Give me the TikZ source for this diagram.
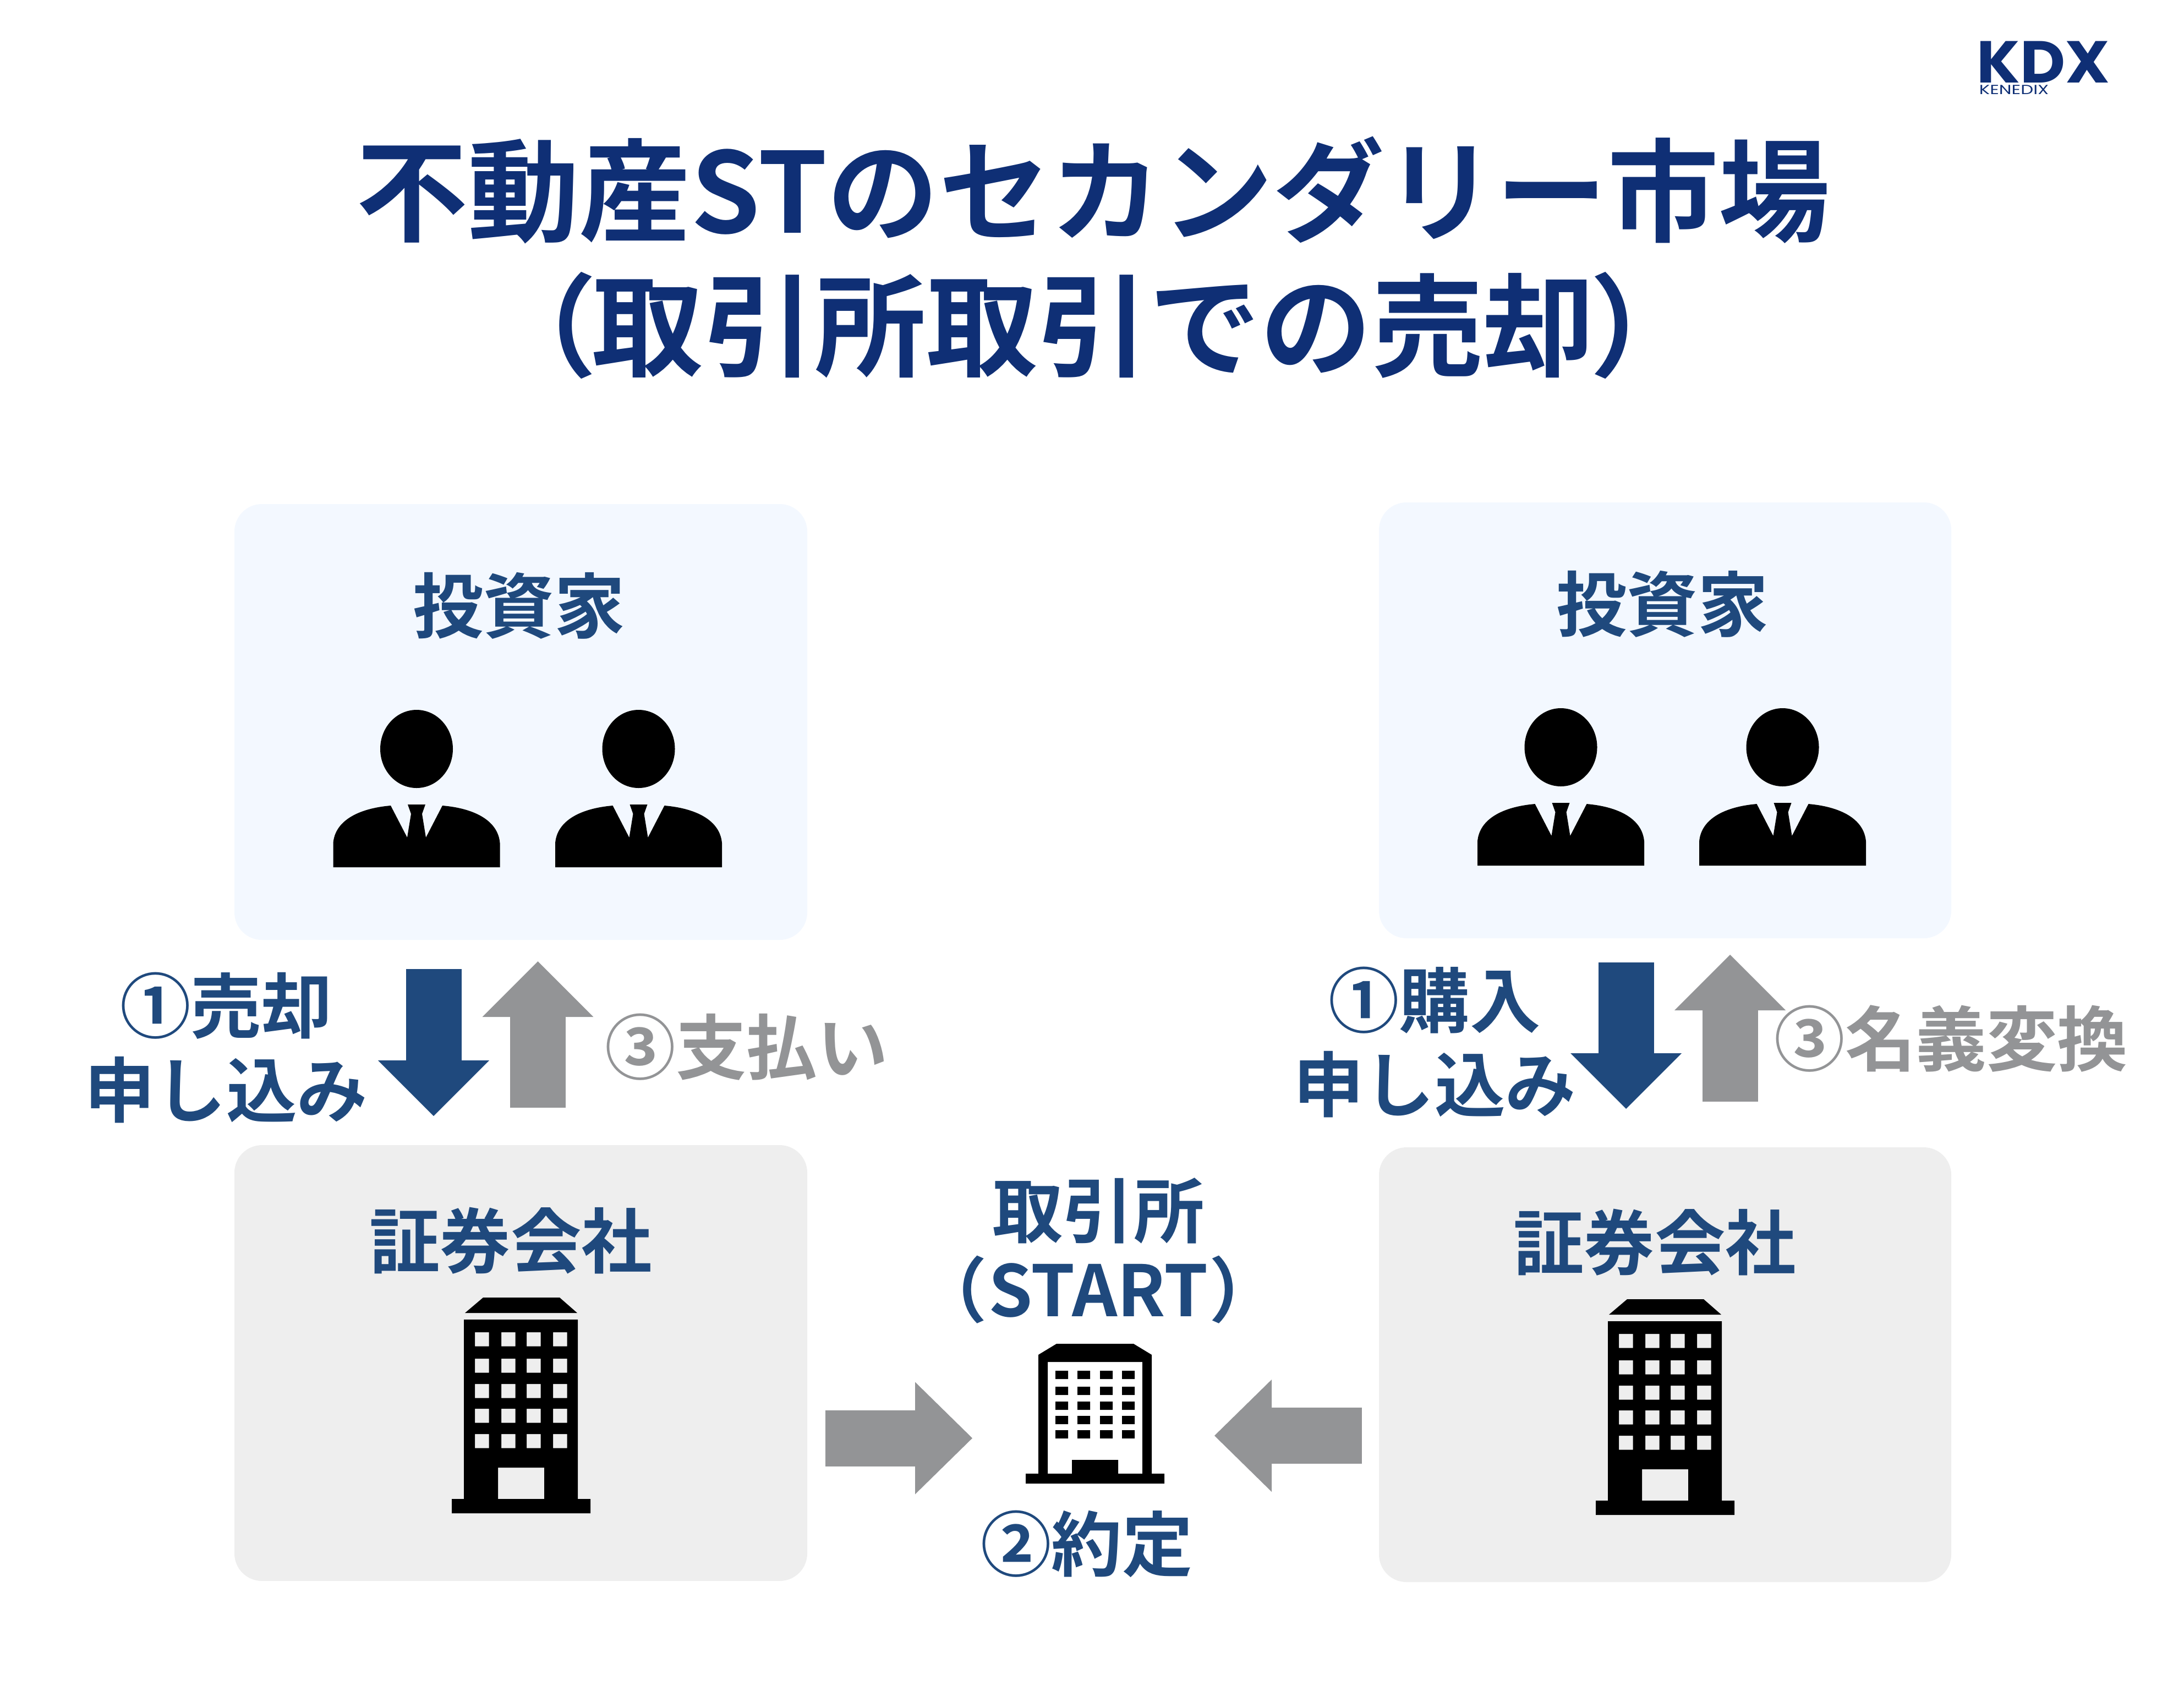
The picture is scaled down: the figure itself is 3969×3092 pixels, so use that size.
\documentclass[tikz,border=0pt]{standalone}
\usepackage{fontspec}
\setmainfont{Noto Sans CJK JP}[BoldFont=* Bold]
\newfontfamily\logofont{Poppins}[BoldFont=* Bold]
\newfontfamily\parenfont{Noto Sans CJK JP}[BoldFont=* Bold,RawFeature=+palt]
\usetikzlibrary{arrows.meta}

\definecolor{titleblue}{RGB}{15,47,117}
\definecolor{labelblue}{RGB}{31,73,125}
\definecolor{arrowgray}{RGB}{147,148,150}
\definecolor{investorbox}{RGB}{243,248,255}
\definecolor{brokerbox}{RGB}{238,238,238}

\tikzset{every picture/.style={line width=0.75pt}}
\tikzset{
  panel/.style={rounded corners=10pt},
  titletext/.style={text=titleblue,font=\fontsize{40.5}{49}\selectfont\bfseries,align=center,inner sep=0pt},
  labeltext/.style={text=labelblue,font=\fontsize{25.7}{30.6}\selectfont\bfseries,align=center,inner sep=0pt},
  graytext/.style={labeltext,text=arrowgray},
  logotext/.style={text=titleblue,inner sep=0pt,anchor=base west},
  bluearrow/.style={draw=labelblue,line width=20.2pt,-{Triangle[length=20.2pt,width=40.4pt,line width=0pt 0 0]}},
  grayarrow/.style={draw=arrowgray,line width=20.2pt,-{Triangle[length=20.2pt,width=40.4pt,line width=0pt 0 0]}},
  sidearrow/.style={draw=arrowgray,line width=20.4pt,-{Triangle[length=20.8pt,width=40.8pt,line width=0pt 0 0]}}
}

\newcommand{\openparen}{{\parenfont （}}
\newcommand{\shutparen}{{\parenfont ）}}
\newcommand{\personicon}[2]{
  \begin{scope}[shift={(#1,#2)}]
    \fill (0,-215) ellipse [x radius=66, y radius=71];
    \fill (-151.5,0) -- (-151.5,-44) .. controls (-148,-85) and (-105,-107) .. (-47,-112) -- (-17,-54) -- (-10,-97) -- (-16,-114) -- (16,-114) -- (10,-97) -- (17,-54) -- (47,-112) .. controls (105,-107) and (148,-85) .. (151.5,-44) -- (151.5,0) -- cycle;
  \end{scope}
}
\newcommand{\officeicon}[2]{
  \begin{scope}[shift={(#1,#2)}]
    \fill (-68,-392) -- (71,-392) -- (103,-364) -- (-101,-364) -- cycle;
    \fill[even odd rule] (-103,-352) -- (104,-352) -- (104,-26) -- (127,-26) -- (127,0) -- (-125,0) -- (-125,-26) -- (-103,-26) -- cycle
      (-41,-83) rectangle (43,-26)
      \foreach \wx in {-83,-35,11,59} {\foreach \wy in {-329,-281,-235,-190,-144} {(\wx,\wy) rectangle ++(25.5,25.5)}};
  \end{scope}
}

\begin{document}
\begin{tikzpicture}[x=0.2pt,y=0.2pt,yscale=-1]
  \useasboundingbox (0,0) rectangle (3969,3092);

  \fill[investorbox,panel] (426,916) rectangle (1467,1708);
  \fill[investorbox,panel] (2506,913) rectangle (3546,1705);
  \fill[brokerbox,panel] (426,2081) rectangle (1467,2873);
  \fill[brokerbox,panel] (2506,2085) rectangle (3546,2875);

  \node [titletext] (title) at (1987,468) {不動産STのセカンダリー市場\\\openparen 取引所取引での売却\shutparen};
  \node [logotext,font=\fontsize{21.5}{20}\selectfont\logofont\bfseries] (logokdx) at (3591,150) {\scalebox{1.05}[1]{KDX}};
  \node [logotext,font=\fontsize{4.8}{5}\selectfont\logofont] (logoname) at (3595,171) {\scalebox{1.35}[1]{KENEDIX}};

  \node [labeltext] (investorl) at (943,1101) {投資家};
  \node [labeltext] (investorr) at (3021,1098) {投資家};
  \node [labeltext] (brokerl) at (928,2255) {証券会社};
  \node [labeltext] (brokerr) at (3007,2258) {証券会社};
  \node [labeltext] (exchange) at (1996,2273) {取引所\\[-1.8pt]\openparen\hspace{1.5pt}START\hspace{1.5pt}\shutparen};
  \node [labeltext] (contract) at (1975,2806) {②約定};
  \node [labeltext] (sellorder) at (411,1904) {①売却\\申し込み};
  \node [labeltext] (buyorder) at (2607,1894) {①購入\\申し込み};
  \node [graytext,anchor=west] (payment) at (1098,1903) {③支払い};
  \node [graytext,anchor=west] (transfer) at (3223,1887) {③名義変換};

  \personicon{757}{1576}
  \personicon{1160.5}{1576}
  \personicon{2836.5}{1573}
  \personicon{3239.5}{1573}
  \officeicon{946}{2750}
  \officeicon{3025}{2753}

  \fill[even odd rule] (1887,2462) -- (1920,2442) -- (2060,2442) -- (2093,2462) -- (2093,2678) -- (2116,2678) -- (2116,2696) -- (1864,2696) -- (1864,2678) -- (1887,2678) -- cycle
    (1904,2475) -- (2076,2475) -- (2076,2678) -- (2032,2678) -- (2032,2653) -- (1948,2653) -- (1948,2678) -- (1904,2678) -- cycle
    \foreach \wx in {1918,1958,1999,2039} {\foreach \wy in {2491,2520,2547,2573,2599} {(\wx,\wy) rectangle ++(23,15)}};

  \coordinate (sellfrom) at (788,1761);
  \coordinate (sellto) at (788,2028);
  \coordinate (payfrom) at (977.5,2013);
  \coordinate (payto) at (977.5,1747);
  \coordinate (buyfrom) at (2955,1749);
  \coordinate (buyto) at (2955,2015);
  \coordinate (regfrom) at (3144,2002);
  \coordinate (regto) at (3144,1735);
  \coordinate (leftfrom) at (1500,2613.5);
  \coordinate (leftto) at (1767,2613.5);
  \coordinate (rightfrom) at (2475,2609);
  \coordinate (rightto) at (2207,2609);

  \draw [bluearrow] (sellfrom) -- (sellto);
  \draw [grayarrow] (payfrom) -- (payto);
  \draw [bluearrow] (buyfrom) -- (buyto);
  \draw [grayarrow] (regfrom) -- (regto);
  \draw [sidearrow] (leftfrom) -- (leftto);
  \draw [sidearrow] (rightfrom) -- (rightto);
\end{tikzpicture}
\end{document}
